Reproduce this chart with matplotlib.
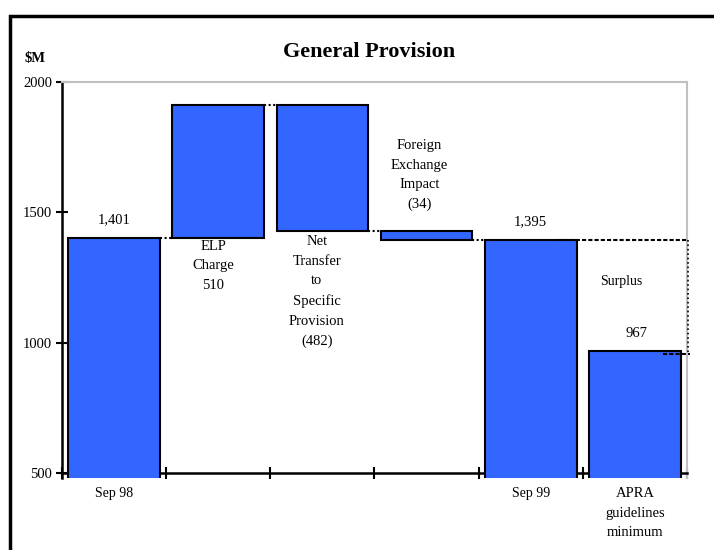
import matplotlib
matplotlib.use("Agg")
import matplotlib.pyplot as plt
from matplotlib.patches import Rectangle

plt.rcParams["font.family"] = ["Liberation Serif", "DejaVu Serif"]

# General provision movements, $M
start_value = 1401      # Sep 98
elp_charge = 510
net_transfer = -482
fx_impact = -34
end_value = 1395        # Sep 99
apra_minimum = 967

step_labels = ["ELP\nCharge\n510",
               "Net\nTransfer\nto\nSpecific\nProvision\n(482)",
               "Foreign\nExchange\nImpact\n(34)"]
axis_labels = ["Sep 98", "", "", "", "Sep 99", "APRA\nguidelines\nminimum"]
y_ticks = [500, 1000, 1500, 2000]

BLUE = "#3366FF"
GREY = "#C0C0C0"
W = 0.88
LS = 1.66

fig = plt.figure(figsize=(7.14, 5.5), dpi=100)
ax = fig.add_axes([0.0868, 0.1305, 0.8754, 0.7204])

# waterfall levels
after_elp = start_value + elp_charge
after_net = after_elp + net_transfer
after_fx = after_net + fx_impact

bar_kw = dict(width=W, color=BLUE, edgecolor="black", linewidth=1.5, zorder=3)
ax.bar(0, start_value, **bar_kw)
ax.bar(1, elp_charge, bottom=start_value, **bar_kw)
ax.bar(2, -net_transfer, bottom=after_net, **bar_kw)
ax.bar(3, -fx_impact, bottom=after_fx, **bar_kw)
ax.bar(4, end_value, **bar_kw)
ax.bar(5, apra_minimum, **bar_kw)

# dotted connectors between steps
dot = dict(color="black", lw=1.5, ls=(0, (1, 1.2)), zorder=4)
h = W / 2
ax.plot([0 + h, 1 - h], [start_value, start_value], **dot)
ax.plot([1 + h, 2 - h], [after_elp, after_elp], **dot)
ax.plot([2 + h, 3 - h], [after_net, after_net], **dot)
ax.plot([3 + h, 4 - h], [after_fx, after_fx], **dot)

# surplus bracket
ax.plot([4.25, 5.51], [end_value, end_value], color="black", lw=1.5,
        ls=(0, (2, 1)), zorder=4, clip_on=False)
ax.plot([5.51, 5.51], [end_value, apra_minimum - 9], color="black", lw=1.2,
        ls=":", zorder=4, clip_on=False)
ax.plot([5.27, 5.53], [apra_minimum - 9, apra_minimum - 9], color="black",
        lw=1.5, ls=(0, (2, 1)), zorder=4, clip_on=False)
ax.text(4.87, 1235, "Surplus", ha="center", va="center", fontsize=10)

# value labels
lab = dict(ha="center", fontsize=10.5, textcoords="offset points")
ax.annotate(f"{start_value:,}", (0, start_value), xytext=(0, 13), va="center", **lab)
ax.annotate(f"{end_value:,}", (4, end_value), xytext=(0, 13), va="center", **lab)
ax.annotate(f"{apra_minimum:,}", (5, apra_minimum), xytext=(1, 13), va="center", **lab)
ax.annotate(step_labels[0], (1, start_value), xytext=(-3.5, -1), va="top",
            linespacing=LS, **lab)
ax.annotate(step_labels[1], (2, after_net), xytext=(-4, -3), va="top",
            linespacing=LS, **lab)
ax.annotate(step_labels[2], (3, after_net), xytext=(-5, 14), va="bottom",
            linespacing=LS, **lab)

for i, t in enumerate(axis_labels):
    ax.annotate(t, (i, 500), xytext=(0, -10), textcoords="offset points",
                ha="center", va="top", fontsize=10 if i < 5 else 10.5,
                linespacing=LS)

# axes styling
ax.set_xlim(-0.5, 5.5)
ax.set_ylim(480, 2000)
ax.set_yticks(y_ticks)
ax.set_xticks([x - 0.5 for x in range(7)])
ax.set_xticklabels([])
ax.tick_params(axis="y", direction="inout", length=8, width=1.5, labelsize=10.5, pad=3)
ax.tick_params(axis="x", direction="inout", length=8, width=1.5)
ax.spines["bottom"].set_position(("data", 500))
ax.spines["bottom"].set_linewidth(1.8)
ax.spines["left"].set_linewidth(1.8)
ax.spines["top"].set_color(GREY)
ax.spines["right"].set_color(GREY)
ax.spines["top"].set_linewidth(1.5)
ax.spines["right"].set_linewidth(1.5)

fig.text(0.517, 0.905, "General Provision", ha="center", va="center",
         fontsize=16, fontweight="bold")
fig.text(0.049, 0.893, "$M", ha="center", va="center", fontsize=10.5,
         fontweight="bold")

# outer frame running off the page edges
fig.add_artist(Rectangle((9.5 / 714, -0.2), 1.2, 1.2 - 16 / 550,
                         transform=fig.transFigure, fill=False,
                         edgecolor="black", lw=2.5))

fig.savefig("out.png", dpi=100)
